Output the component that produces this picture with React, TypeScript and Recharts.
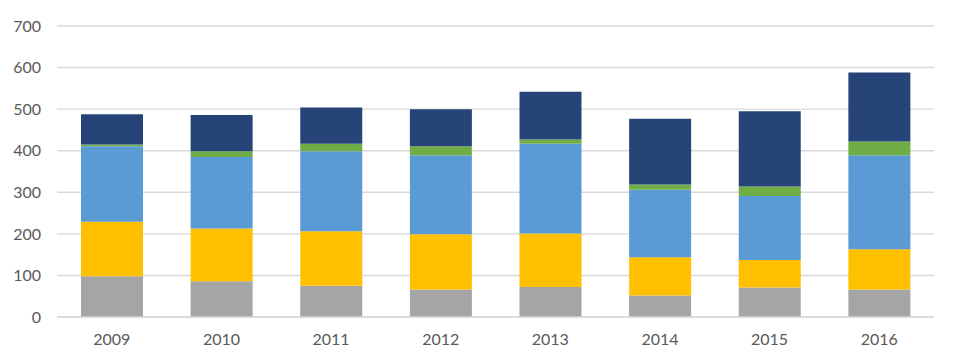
import { BarChart, Bar, XAxis, YAxis, CartesianGrid } from 'recharts';

const years = ['2009', '2010', '2011', '2012', '2013', '2014', '2015', '2016'];
const grey = [98, 86, 75, 66, 72, 52, 71, 66];
const yellow = [131, 127, 131, 133, 129, 92, 66, 97];
const blue = [182, 172, 193, 190, 216, 162, 154, 226];
const green = [4, 14, 18, 22, 10, 13, 23, 33];
const navy = [73, 87, 87, 89, 115, 158, 181, 166];
const yTicks = [0, 100, 200, 300, 400, 500, 600, 700];

const chartData = years.map((year, i) => ({
  year,
  grey: grey[i],
  yellow: yellow[i],
  blue: blue[i],
  green: green[i],
  navy: navy[i],
}));

const tickStyle = { fill: '#595959', fontSize: 16, fontFamily: 'Lato, "Liberation Sans", sans-serif' };

export default function App() {
  return (
    <BarChart
      width={944}
      height={348}
      data={chartData}
      margin={{ top: 18, right: 18, left: 0, bottom: 0 }}
      barSize={62}
    >
      <CartesianGrid vertical={false} stroke="#d9d9d9" strokeWidth={1.4} />
      <XAxis
        dataKey="year"
        height={39}
        axisLine={{ stroke: '#d9d9d9', strokeWidth: 1.4 }}
        tickLine={false}
        tickSize={0}
        tickMargin={17}
        tick={tickStyle}
      />
      <YAxis
        width={49}
        domain={[0, 700]}
        ticks={yTicks}
        axisLine={false}
        tickLine={false}
        tickSize={0}
        tickMargin={16}
        tick={tickStyle}
      />
      <Bar dataKey="grey" stackId="a" fill="#a5a5a5" isAnimationActive={false} />
      <Bar dataKey="yellow" stackId="a" fill="#ffc000" isAnimationActive={false} />
      <Bar dataKey="blue" stackId="a" fill="#5b9bd5" isAnimationActive={false} />
      <Bar dataKey="green" stackId="a" fill="#70ad47" isAnimationActive={false} />
      <Bar dataKey="navy" stackId="a" fill="#264478" isAnimationActive={false} />
    </BarChart>
  );
}
